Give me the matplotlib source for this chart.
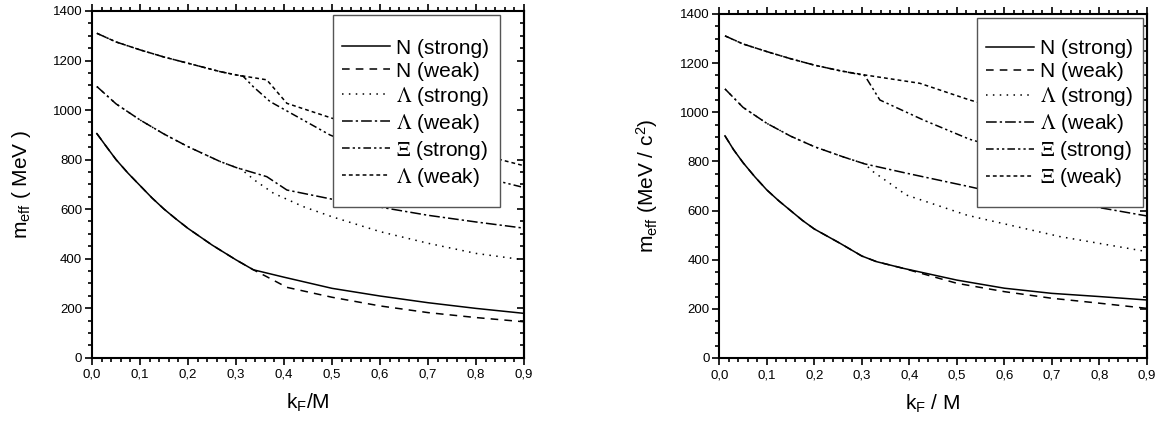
import numpy as np
import matplotlib.pyplot as plt
from matplotlib.ticker import MultipleLocator
from matplotlib.patches import Rectangle

plt.rcParams['font.family'] = ['Liberation Sans', 'DejaVu Sans']
plt.rcParams['mathtext.fontset'] = 'stix'

# ---- left panel data (k_F/M, m_eff in MeV) ----
kN_s_L = [0.01, 0.03, 0.05, 0.075, 0.1, 0.125, 0.15, 0.175, 0.2, 0.25, 0.3, 0.336, 0.4, 0.5, 0.6, 0.7, 0.8, 0.9]
mN_s_L = [905, 852, 800, 745, 695, 645, 600, 560, 522, 455, 395, 355, 325, 280, 249, 222, 199, 179]
kN_w_L = [0.01, 0.03, 0.05, 0.075, 0.1, 0.125, 0.15, 0.175, 0.2, 0.25, 0.3, 0.336, 0.364, 0.406, 0.5, 0.6, 0.7, 0.8, 0.9]
mN_w_L = [905, 852, 800, 745, 695, 645, 600, 560, 522, 455, 395, 355, 327, 284, 244, 209, 182, 162, 145]
kL_s_L = [0.01, 0.05, 0.1, 0.15, 0.2, 0.267, 0.3, 0.31, 0.34, 0.378, 0.44, 0.5, 0.6, 0.7, 0.8, 0.9]
mL_s_L = [1095, 1025, 960, 903, 852, 792, 768, 762, 715, 664, 610, 569, 509, 462, 421, 395]
kL_w_L = [0.01, 0.05, 0.1, 0.15, 0.2, 0.267, 0.3, 0.364, 0.406, 0.5, 0.6, 0.7, 0.8, 0.9]
mL_w_L = [1095, 1025, 960, 903, 852, 792, 768, 731, 677, 640, 608, 575, 548, 523]
kX_s_L = [0.01, 0.05, 0.1, 0.15, 0.2, 0.267, 0.3, 0.315, 0.336, 0.371, 0.496, 0.6, 0.7, 0.8, 0.85, 0.9]
mX_s_L = [1310, 1275, 1243, 1214, 1189, 1155, 1142, 1136, 1094, 1034, 899, 820, 770, 735, 711, 687]
kX_w_L = [0.01, 0.05, 0.1, 0.15, 0.2, 0.267, 0.3, 0.364, 0.406, 0.5, 0.6, 0.7, 0.8, 0.85, 0.9]
mX_w_L = [1310, 1275, 1243, 1214, 1189, 1155, 1142, 1122, 1027, 967, 915, 870, 825, 800, 775]

# ---- right panel data ----
kN_s_R = [0.012, 0.03, 0.05, 0.075, 0.1, 0.125, 0.15, 0.175, 0.2, 0.254, 0.3, 0.331, 0.387, 0.5, 0.6, 0.7, 0.8, 0.9]
mN_s_R = [904, 848, 795, 737, 684, 640, 600, 560, 525, 467, 415, 392, 365, 317, 284, 263, 250, 236]
kN_w_R = [0.012, 0.03, 0.05, 0.075, 0.1, 0.125, 0.15, 0.175, 0.2, 0.254, 0.3, 0.331, 0.387, 0.5, 0.6, 0.7, 0.8, 0.9]
mN_w_R = [904, 848, 795, 737, 684, 640, 600, 560, 525, 467, 415, 392, 365, 304, 270, 243, 223, 202]
kL_s_R = [0.012, 0.05, 0.1, 0.15, 0.2, 0.26, 0.306, 0.324, 0.394, 0.52, 0.548, 0.717, 0.9]
mL_s_R = [1095, 1020, 955, 903, 860, 819, 790, 758, 663, 582, 569, 494, 433]
kL_w_R = [0.012, 0.05, 0.1, 0.15, 0.2, 0.26, 0.306, 0.394, 0.527, 0.6, 0.7, 0.8, 0.9]
mL_w_R = [1095, 1020, 955, 903, 860, 819, 790, 752, 697, 665, 640, 612, 578]
kX_s_R = [0.012, 0.05, 0.1, 0.15, 0.2, 0.254, 0.306, 0.338, 0.429, 0.527, 0.6, 0.7, 0.8, 0.9]
mX_s_R = [1311, 1278, 1247, 1218, 1192, 1169, 1150, 1050, 969, 890, 850, 800, 760, 725]
kX_w_R = [0.012, 0.05, 0.1, 0.15, 0.2, 0.254, 0.306, 0.422, 0.527, 0.6, 0.7, 0.8, 0.9]
mX_w_R = [1311, 1278, 1247, 1218, 1192, 1169, 1152, 1118, 1050, 1010, 960, 915, 870]

labels_L = ['N (strong)', 'N (weak)', r'$\Lambda$ (strong)', r'$\Lambda$ (weak)',
            r'$\Xi$ (strong)', r'$\Lambda$ (weak)']
labels_R = ['N (strong)', 'N (weak)', r'$\Lambda$ (strong)', r'$\Lambda$ (weak)',
            r'$\Xi$ (strong)', r'$\Xi$ (weak)']

xticks = [0.0, 0.1, 0.2, 0.3, 0.4, 0.5, 0.6, 0.7, 0.8, 0.9]
xticklabels = ['0,0', '0,1', '0,2', '0,3', '0,4', '0,5', '0,6', '0,7', '0,8', '0,9']
yticks = [0, 200, 400, 600, 800, 1000, 1200, 1400]

styles = ['-', (0, (5, 4)), (0, (1, 3.5)), (0, (7, 2, 1.5, 2)),
          (0, (5, 2, 1.5, 2, 1.5, 2)), (0, (2.5, 2))]

fig = plt.figure(figsize=(11.62, 4.24), dpi=100)
axL = fig.add_axes([0.0792, 0.1564, 0.3718, 0.8177])
axR = fig.add_axes([0.619, 0.1557, 0.368, 0.8113])


def draw(ax, curves, labels, ylabel, xlabel, box, anchor):
    for (k, m), ls, lab in zip(curves, styles, labels):
        ax.plot(k, m, color='black', lw=1.1, linestyle=ls, label=lab)
    ax.set_xlim(0, 0.9)
    ax.set_ylim(0, 1400)
    ax.set_xticks(xticks)
    ax.set_xticklabels(xticklabels)
    ax.set_yticks(yticks)
    ax.xaxis.set_minor_locator(MultipleLocator(0.02))
    ax.yaxis.set_minor_locator(MultipleLocator(50))
    ax.tick_params(axis='x', which='both', direction='out', top=True, labelsize=9.5,
                   width=1.2, pad=3)
    ax.tick_params(axis='y', which='both', direction='out', left=True, right=False,
                   labelsize=9.5, width=1.2, pad=2)
    ax.tick_params(which='major', length=5)
    ax.tick_params(which='minor', length=3)
    sec = ax.secondary_yaxis('right')
    sec.set_yticks(yticks)
    sec.yaxis.set_minor_locator(MultipleLocator(50))
    sec.tick_params(which='both', direction='in', labelright=False, width=1.2)
    sec.tick_params(which='major', length=5)
    sec.tick_params(which='minor', length=3)
    for s in ax.spines.values():
        s.set_linewidth(1.5)
    sec.spines['right'].set_linewidth(1.5)
    ax.set_ylabel(ylabel, fontsize=15, labelpad=14)
    ax.set_xlabel(xlabel, fontsize=15, labelpad=8)
    # legend box drawn separately (white, covers curves)
    x0, y0, x1, y1 = box
    ax.add_patch(Rectangle((x0, y0), x1 - x0, y1 - y0, transform=ax.transAxes,
                           facecolor='white', edgecolor='#555555', lw=1.0, zorder=4))
    ax.legend(loc='upper left', bbox_to_anchor=anchor, fontsize=15,
              frameon=False, handlelength=2.3, handletextpad=0.3,
              labelspacing=0.19, borderpad=0, borderaxespad=0)


draw(axL, [(kN_s_L, mN_s_L), (kN_w_L, mN_w_L), (kL_s_L, mL_s_L), (kL_w_L, mL_w_L),
           (kX_s_L, mX_s_L), (kX_w_L, mX_w_L)], labels_L,
     r'$\mathregular{m_{eff}}$ ( MeV )', r'$\mathregular{k_F}$/M',
     (0.557, 0.4355, 0.944, 0.988), (0.578, 0.92))
draw(axR, [(kN_s_R, mN_s_R), (kN_w_R, mN_w_R), (kL_s_R, mL_s_R), (kL_w_R, mL_w_R),
           (kX_s_R, mX_s_R), (kX_w_R, mX_w_R)], labels_R,
     r'$\mathregular{m_{eff}}$ (MeV / c$\mathregular{^2}$)', r'$\mathregular{k_F}$ / M',
     (0.602, 0.4398, 0.990, 0.9875), (0.6236, 0.927))

plt.savefig('out.png', dpi=100)
